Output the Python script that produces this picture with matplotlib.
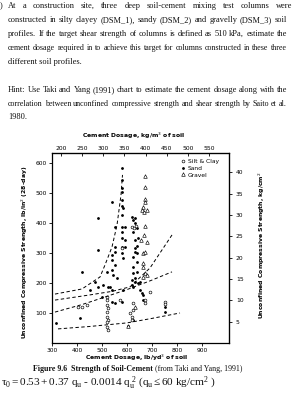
import matplotlib
matplotlib.use('Agg')
import matplotlib.pyplot as plt
from matplotlib.lines import Line2D

# ---- data (lb/yd3 of soil, psi) ----
sand_x = [483, 483, 539, 579, 579, 579, 579, 579, 579, 582, 579, 579, 580, 579, 579, 579,
          552, 552, 552, 592, 592, 592, 624, 632, 640, 624, 632, 640, 632, 640, 624,
          485, 419, 539, 539, 552, 539, 544, 559, 585, 624, 632, 652, 619, 472, 504,
          524, 539, 452, 519, 499, 532, 412, 316, 539, 552, 579, 584, 624, 644, 652,
          664, 664, 619, 632, 644, 632, 639, 624, 639, 619, 632, 659, 752, 752, 604, 624]
sand_y = [416, 310, 471, 583, 543, 517, 503, 477, 457, 450, 427, 387, 370, 350, 320, 300,
          387, 320, 303, 387, 343, 320, 410, 400, 383, 370, 343, 323, 317, 300, 287,
          187, 238, 293, 277, 260, 243, 227, 217, 283, 233, 217, 203, 193, 203, 193,
          187, 177, 177, 238, 154, 188, 83, 67, 138, 133, 138, 177, 188, 200, 177,
          160, 143, 421, 417, 350, 304, 271, 254, 238, 210, 204, 167, 120, 104, 57, 77]

clay_x = [520, 520, 520, 524, 520, 520, 524, 520, 520, 524, 612, 619, 619, 624, 624,
          405, 419, 439, 692, 752, 752, 619, 628, 636, 672, 672, 580, 572]
clay_y = [154, 143, 127, 117, 104, 88, 77, 71, 54, 43, 100, 88, 77, 110, 133,
          121, 121, 127, 171, 138, 130, 388, 383, 390, 143, 133, 317, 143]

grav_x = [672, 672, 672, 672, 664, 659, 679, 668, 672, 669, 679, 665, 672, 664, 664,
          672, 679, 664, 656, 632, 604]
grav_y = [557, 520, 480, 470, 453, 443, 443, 437, 390, 360, 338, 299, 304, 267, 254,
          233, 227, 221, 343, 121, 57]

# dashed trend / envelope curves
c1_x = [324, 450, 600, 700, 812]
c1_y = [47, 55, 67, 82, 100]
c2_x = [312, 420, 500, 600, 692, 780]
c2_y = [103, 128, 150, 178, 207, 237]
c3_x = [312, 450, 540, 612, 692, 780]
c3_y = [143, 160, 172, 187, 250, 360]
c4_x = [312, 420, 492, 512, 540, 560, 576, 582]
c4_y = [163, 180, 220, 260, 320, 393, 493, 560]

W, H = 299, 420
def fx(px): return px / W
def fy(py): return 1 - py / H

fig = plt.figure(figsize=(W / 100, H / 100), dpi=100)
fig.patch.set_facecolor('white')
renderer = fig.canvas.get_renderer()

serif = 'Liberation Serif'
FS = 6.05
INK = '#111111'

def justify(py, text, x0, x1, last=False, fs=FS, min_gap=1.9):
    if last:
        fig.text(fx(x0), fy(py), text, fontsize=fs, family=serif, va='center', ha='left', color=INK)
        return
    words = text.split(' ')
    objs = [fig.text(0, fy(py), w, fontsize=fs, family=serif, va='center', ha='left', color=INK)
            for w in words]
    widths = [o.get_window_extent(renderer).width for o in objs]
    room = x1 - x0 - min_gap * (len(words) - 1)
    if sum(widths) > room:
        # shrink the line a little so the words keep a visible gap
        k = room / sum(widths)
        for o in objs:
            o.set_fontsize(fs * k)
        widths = [o.get_window_extent(renderer).width for o in objs]
    gap = (x1 - x0 - sum(widths)) / (len(words) - 1)
    x = x0
    for o, w in zip(objs, widths):
        o.set_x(fx(x))
        x += w + gap

fig.text(fx(0), fy(6), ')', fontsize=FS, family=serif, va='center', color=INK)
para = ['At a construction site, three deep soil-cement mixing test columns were',
        'constructed in silty clayey (DSM_1), sandy (DSM_2) and gravelly (DSM_3) soil',
        'profiles. If the target shear strength of columns is defined as 510 kPa, estimate the',
        'cement dosage required in to achieve this target for columns constructed in these three',
        'different soil profiles.']
for i, line in enumerate(para):
    justify(6 + 14 * i, line, 8, 292 if i == 0 else 287, last=(i == len(para) - 1))

hint = ['Hint: Use Taki and Yang (1991) chart to estimate the cement dosage along with the',
        'correlation between unconfined compressive strength and shear strength by Saito et al.',
        '1980.']
for i, line in enumerate(hint):
    justify(90 + 13.5 * i, line, 8, 287, last=(i == len(hint) - 1))

# ---- chart ----
ax = fig.add_axes([fx(52), fy(343), 177 / W, 190 / H])
ax.set_xlim(300, 1008)
ax.set_ylim(0, 633)

ms_kw = dict(linestyle='none')
ax.plot(sand_x, sand_y, marker='o', ms=1.0, color='black', **ms_kw)
ax.plot(clay_x, clay_y, marker='o', ms=2.0, mfc='white', mec='black', mew=0.45, **ms_kw)
ax.plot(grav_x, grav_y, marker='^', ms=2.6, mfc='white', mec='black', mew=0.45, **ms_kw)
for cx, cy in [(c1_x, c1_y), (c2_x, c2_y), (c3_x, c3_y), (c4_x, c4_y)]:
    ax.plot(cx, cy, color='black', lw=0.7, dashes=(3.5, 2.5))

ax.set_xticks(range(300, 1000, 100))
ax.set_yticks(range(100, 700, 100))
for s in ax.spines.values():
    s.set_linewidth(0.9)
ax.tick_params(direction='out', length=2, width=0.6, labelsize=4.3, pad=1.5)

top = ax.secondary_xaxis('top', functions=(lambda x: x / 1.6856, lambda x: x * 1.6856))
top.set_xticks(range(200, 600, 50))
top.tick_params(direction='in', length=2, width=0.6, labelsize=4.3, pad=1.5)
right = ax.secondary_yaxis('right', functions=(lambda y: y / 14.223, lambda y: y * 14.223))
right.set_yticks(range(5, 45, 5))
right.tick_params(direction='out', length=2, width=0.6, labelsize=4.3, pad=3)

lab = dict(fontsize=4.4, fontweight='bold', family='DejaVu Sans')
fig.text(fx(134), fy(136), 'Cement Dosage, kg/m$^3$ of soil', ha='center', va='center', **lab)
fig.text(fx(137), fy(358), 'Cement Dosage, lb/yd$^3$ of soil', ha='center', va='center', **lab)
fig.text(fx(25), fy(252), 'Unconfined Compressive Strength, lb/in$^2$ (28-day)', rotation=90,
         ha='center', va='center', **lab)
fig.text(fx(262), fy(245), 'Unconfined Compressive Strength, kg/cm$^2$', rotation=90,
         ha='center', va='center', **lab)

handles = [Line2D([], [], marker='o', ms=2.0, mfc='white', mec='black', mew=0.45, ls='none'),
           Line2D([], [], marker='o', ms=1.0, color='black', ls='none'),
           Line2D([], [], marker='^', ms=2.6, mfc='white', mec='black', mew=0.45, ls='none')]
ax.legend(handles, ['Silt & Clay', 'Sand', 'Gravel'], loc='upper left',
          bbox_to_anchor=(fx(181), fy(159)), bbox_transform=fig.transFigure,
          frameon=False, fontsize=4.3, handlelength=0.6, handletextpad=0.5,
          labelspacing=0.25, borderpad=0, borderaxespad=0)

# ---- caption and formula ----
cap_b = fig.text(fx(33), fy(369), 'Figure 9.6  Strength of Soil-Cement', fontsize=5.7,
                 family=serif, fontweight='bold', va='center', color=INK)
bw = cap_b.get_window_extent(renderer).width
fig.text(fx(33 + bw + 2), fy(369), '(from Taki and Yang, 1991)', fontsize=5.7, family=serif,
         va='center', color=INK)
plt.rcParams['mathtext.fontset'] = 'custom'
plt.rcParams['mathtext.rm'] = serif
plt.rcParams['mathtext.it'] = serif + ':italic'
fig.text(fx(1), fy(383),
         r'$\mathrm{\tau_0 = 0.53 + 0.37\ q_u\ \text{-}\ 0.0014\ q_u^{\ 2}\ (q_u \leq 60\ kg/cm^2\ )}$',
         fontsize=8.1, va='center', color=INK)

fig.savefig('out.png', dpi=100, facecolor='white')
